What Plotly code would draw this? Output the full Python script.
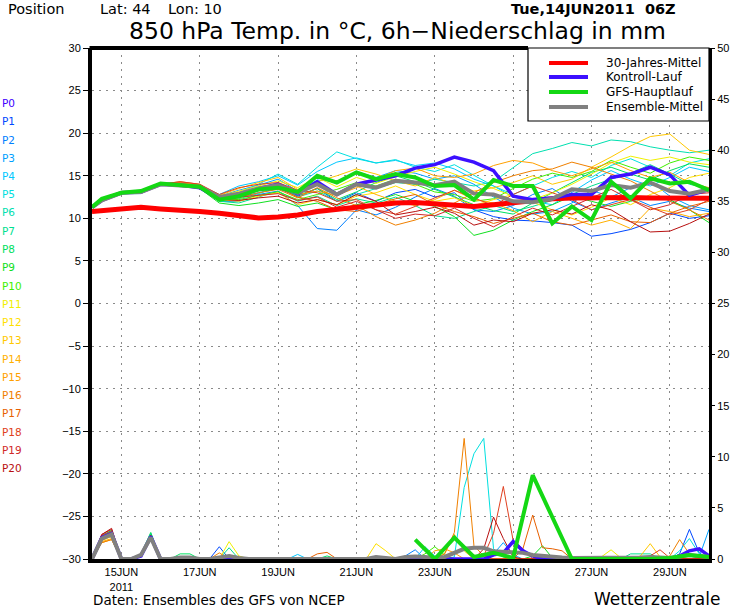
import plotly.graph_objects as go
from datetime import datetime, timedelta

# ---------------- data ----------------
BASE = datetime(2011, 6, 14, 6)
# temperature time steps (hours after 14JUN2011 06Z)
temp_hours = [0, 6] + [18 + 12 * i for i in range(31)]
# precipitation time steps (6-hourly)
precip_hours = list(range(0, 379, 6))
gfs_precip_hours = list(range(198, 379, 12))

tick_dates = ["2011-06-15", "2011-06-17", "2011-06-19", "2011-06-21",
              "2011-06-23", "2011-06-25", "2011-06-27", "2011-06-29"]
tick_text = ["15JUN<br>2011", "17JUN", "19JUN", "21JUN", "23JUN", "25JUN", "27JUN", "29JUN"]
temp_ticks = list(range(-30, 31, 5))
precip_ticks = list(range(0, 51, 5))

member_names = ["P%d" % i for i in range(21)]
member_colors = ["#4000FF", "#0048FF", "#0080FF", "#00A0FF", "#00C8FF", "#00E0E0",
                 "#00E0B0", "#00E090", "#00E060", "#10E020", "#40F000", "#F0F000",
                 "#FFE000", "#FFC800", "#FFB000", "#FFA000", "#F08000", "#E86000",
                 "#E04020", "#D02828", "#B81010"]

temp_klima = [10.8, 10.9, 11.2, 11.3, 11.1, 11.0, 10.8, 10.6, 10.3, 10.05, 10.15, 10.4,
              10.8, 11.05, 11.2, 11.5, 11.8, 11.85, 11.7, 11.5, 11.4, 11.6, 11.85, 12.1,
              12.3, 12.4, 12.45, 12.5, 12.45, 12.4, 12.4, 12.35, 12.35]
temp_kontroll = [11.3, 12.1, 13.0, 13.1, 14.0, 13.9, 13.6, 12.3, 12.8, 13.5, 14.0, 12.9,
                 14.3, 12.8, 14.0, 14.5, 15.0, 15.9, 16.3, 17.2, 16.6, 15.6, 12.6, 12.2,
                 12.4, 12.8, 12.8, 14.8, 15.2, 16.0, 15.1, 12.7, 13.4]
temp_gfs = [11.3, 12.3, 13.0, 13.2, 14.1, 13.9, 13.7, 12.2, 12.6, 13.4, 13.6, 13.1, 15.0,
            14.2, 15.4, 14.6, 15.2, 14.8, 13.8, 13.9, 12.2, 14.5, 13.8, 13.8, 9.4, 11.4,
            9.8, 14.3, 12.35, 14.7, 14.1, 14.3, 13.3]
temp_mittel = [11.3, 12.1, 13.0, 13.1, 14.0, 13.9, 13.7, 12.5, 12.9, 13.5, 13.9, 13.0,
               14.0, 12.8, 14.0, 13.6, 14.4, 14.2, 13.9, 14.3, 12.9, 12.8, 12.0, 11.9,
               12.3, 13.4, 13.2, 13.9, 13.6, 14.2, 13.2, 12.9, 13.4]

temp_p00 = list(temp_kontroll)
temp_p01 = [11.3, 12.1, 13.0, 13.2, 14.0, 13.8, 13.6, 12.2, 12.5, 13.0, 13.5, 12.6, 13.5, 12.0, 13.0, 12.0, 13.0, 13.4, 12.5, 13.0, 11.0, 10.2, 9.8, 9.7, 9.5, 9.2, 7.9, 8.2, 8.7, 9.5, 10.6, 10.0, 10.3]
temp_p02 = [11.3, 12.2, 13.1, 13.0, 14.1, 13.8, 13.5, 12.0, 12.0, 12.8, 13.2, 11.5, 8.8, 8.6, 11.0, 10.4, 11.3, 12.5, 13.5, 12.6, 11.0, 10.8, 11.5, 12.8, 13.5, 12.0, 11.0, 11.8, 12.5, 11.5, 12.0, 11.2, 10.8]
temp_p03 = [11.3, 12.1, 13.0, 13.1, 14.0, 14.0, 13.8, 12.6, 13.3, 13.9, 14.6, 13.2, 14.5, 14.3, 15.5, 14.8, 15.6, 15.3, 14.6, 15.0, 14.0, 12.5, 11.2, 10.5, 10.8, 11.8, 13.3, 12.5, 13.6, 14.4, 12.6, 11.5, 11.0]
temp_p04 = [11.3, 12.1, 12.9, 12.9, 14.0, 13.9, 13.9, 12.8, 13.8, 14.3, 15.0, 13.9, 15.5, 16.6, 17.1, 16.5, 16.8, 16.2, 16.5, 15.8, 14.6, 13.8, 12.5, 12.0, 11.6, 13.0, 14.5, 15.6, 14.6, 13.8, 14.8, 16.0, 15.5]
temp_p05 = [11.3, 12.1, 13.0, 13.1, 14.0, 13.9, 13.8, 12.5, 13.0, 14.0, 15.2, 14.0, 16.0, 17.8, 17.0, 16.5, 16.9, 16.0, 15.5, 16.3, 15.0, 13.8, 12.8, 13.8, 14.8, 15.5, 14.8, 16.2, 17.0, 16.0, 15.0, 16.5, 17.0]
temp_p06 = [11.3, 12.1, 13.0, 13.1, 14.0, 13.9, 13.6, 12.3, 12.3, 12.9, 13.8, 12.5, 13.2, 12.0, 12.8, 13.5, 14.2, 14.0, 14.6, 14.2, 13.8, 14.3, 16.0, 17.6, 18.2, 18.9, 18.5, 19.2, 19.0, 18.4, 18.0, 17.7, 18.0]
temp_p07 = [11.3, 12.1, 13.0, 13.1, 14.0, 13.9, 13.7, 12.0, 11.8, 12.5, 13.2, 12.0, 12.6, 11.5, 12.3, 11.8, 12.5, 11.5, 10.3, 10.0, 10.8, 11.5, 10.8, 11.4, 12.1, 12.8, 13.8, 14.6, 15.3, 16.3, 15.2, 14.0, 13.5]
temp_p08 = [11.3, 12.1, 13.0, 13.1, 14.0, 13.9, 13.7, 12.4, 12.6, 13.2, 13.6, 12.7, 13.5, 12.2, 13.1, 14.2, 15.0, 14.3, 13.4, 12.5, 11.6, 10.9, 10.5, 11.8, 13.0, 14.2, 15.4, 16.0, 15.2, 14.5, 15.6, 16.4, 16.0]
temp_p09 = [11.3, 12.1, 13.0, 13.1, 14.0, 13.9, 13.5, 11.8, 11.5, 11.8, 12.2, 11.4, 11.8, 11.0, 11.6, 12.1, 12.8, 12.0, 11.4, 10.2, 8.0, 8.6, 9.8, 10.8, 11.6, 12.6, 12.0, 11.4, 12.0, 12.6, 12.2, 11.0, 9.5]
temp_p10 = [11.3, 12.1, 13.0, 13.1, 14.0, 13.9, 13.7, 12.3, 12.2, 12.7, 13.1, 12.2, 12.8, 13.4, 14.2, 13.8, 14.6, 14.0, 13.1, 12.8, 12.0, 12.3, 13.5, 14.6, 15.3, 14.8, 15.5, 16.8, 16.0, 15.3, 16.5, 17.2, 16.8]
temp_p11 = [11.3, 12.1, 13.0, 13.1, 14.0, 14.0, 13.8, 12.6, 13.2, 13.8, 14.4, 13.6, 14.8, 13.7, 14.8, 14.1, 14.9, 15.5, 16.0, 15.2, 14.3, 13.5, 12.6, 12.2, 13.0, 14.0, 15.2, 16.5, 17.3, 16.8, 17.2, 16.6, 16.3]
temp_p12 = [11.3, 12.1, 13.0, 13.1, 14.0, 13.9, 13.6, 12.2, 12.0, 12.6, 13.0, 11.6, 12.2, 11.6, 12.6, 13.0, 13.8, 12.8, 12.0, 12.4, 11.5, 12.2, 12.8, 11.9, 11.0, 10.4, 11.3, 12.4, 11.6, 12.8, 13.6, 14.8, 15.3]
temp_p13 = [11.3, 12.1, 13.0, 13.1, 14.0, 14.1, 13.9, 12.7, 13.5, 14.2, 14.8, 13.4, 14.3, 15.0, 15.8, 15.2, 14.4, 13.8, 14.8, 14.0, 13.2, 13.6, 14.2, 15.0, 14.0, 14.6, 16.0, 17.2, 18.5, 19.6, 19.9, 18.0, 17.5]
temp_p14 = [11.3, 12.1, 13.0, 13.1, 14.0, 14.0, 13.8, 12.5, 12.8, 13.4, 14.2, 13.1, 13.9, 13.0, 13.8, 12.8, 12.0, 11.5, 12.2, 13.3, 12.2, 11.8, 10.9, 9.6, 10.8, 10.0, 9.2, 9.8, 8.8, 11.2, 10.8, 10.2, 10.6]
temp_p15 = [11.3, 12.1, 13.0, 13.1, 14.0, 14.1, 13.9, 12.6, 12.9, 13.6, 13.9, 12.8, 13.2, 12.7, 13.6, 14.6, 15.6, 15.9, 15.0, 14.8, 15.2, 16.2, 16.8, 16.5, 15.6, 15.0, 15.8, 16.6, 15.6, 14.8, 15.4, 14.2, 13.6]
temp_p16 = [11.3, 12.1, 13.0, 13.1, 14.0, 14.2, 13.8, 12.4, 12.4, 13.0, 13.4, 12.4, 13.6, 12.4, 11.5, 10.2, 9.2, 9.8, 10.6, 11.8, 13.0, 14.2, 15.0, 15.6, 15.8, 16.6, 16.0, 15.2, 14.4, 13.2, 12.0, 11.0, 9.8]
temp_p17 = [11.3, 12.1, 13.0, 13.1, 14.0, 14.3, 14.0, 12.6, 13.0, 13.5, 13.6, 12.5, 12.0, 11.0, 10.8, 11.6, 12.3, 12.8, 11.6, 10.8, 10.2, 9.4, 10.0, 10.6, 9.6, 9.2, 9.8, 10.4, 9.6, 9.5, 10.6, 11.4, 12.0]
temp_p18 = [11.3, 12.1, 13.0, 13.1, 14.0, 14.3, 14.0, 12.8, 13.6, 14.0, 14.2, 13.3, 13.0, 12.0, 12.2, 11.0, 10.5, 11.4, 12.4, 13.3, 12.4, 11.5, 12.8, 13.8, 13.0, 12.2, 11.0, 11.6, 12.2, 11.3, 10.4, 11.0, 12.2]
temp_p19 = [11.3, 12.1, 13.0, 13.1, 14.0, 14.0, 13.7, 12.3, 12.5, 12.7, 12.9, 12.1, 12.5, 11.3, 12.0, 11.0, 10.0, 10.5, 10.3, 11.2, 10.0, 9.0, 10.2, 11.2, 10.4, 11.4, 12.4, 13.4, 12.2, 11.0, 11.6, 12.8, 13.0]
temp_p20 = [11.3, 12.1, 13.0, 13.1, 14.0, 13.9, 13.6, 12.2, 12.1, 12.4, 12.6, 11.8, 12.2, 11.6, 12.8, 12.0, 10.4, 10.8, 11.3, 10.6, 9.2, 9.8, 9.6, 10.6, 11.0, 10.5, 11.6, 11.0, 9.6, 8.4, 8.5, 9.4, 10.5]

# 6h precipitation (mm), hour -> amount; hours not listed show 0 mm in the chart
precip_kontroll = {6: 2.1, 12: 2.5, 30: 0.3, 36: 2.2, 246: 0.4, 252: 0.6, 258: 1.7, 264: 0.8,
                   270: 0.3, 360: 0.3, 366: 0.8, 372: 1.0, 378: 0.3}
precip_mittel = {6: 2.0, 12: 2.4, 30: 0.4, 36: 2.1, 54: 0.15, 60: 0.15, 78: 0.2, 84: 0.3,
                 90: 0.1, 174: 0.2, 180: 0.1, 192: 0.2, 198: 0.25, 204: 0.2, 210: 0.1,
                 216: 0.2, 222: 0.6, 228: 1.0, 234: 1.1, 240: 1.1, 246: 0.75, 252: 0.7,
                 258: 0.7, 264: 0.6, 270: 0.4, 276: 0.3, 282: 0.2, 288: 0.15, 294: 0.1,
                 300: 0.1, 306: 0.1, 312: 0.15, 318: 0.15, 324: 0.1, 330: 0.15, 336: 0.15,
                 342: 0.2, 348: 0.15, 354: 0.1, 360: 0.25, 366: 0.4, 372: 0.3, 378: 0.2}
precip_gfs = [1.9, 0.0, 2.1, 0.2, 0.6, 0.1, 8.2, 4.1, 0.0, 0.0, 0.0, 0.0, 0.0, 0.1, 0.4, 0.2]

precip_p00 = dict(precip_kontroll)
precip_p01 = {6: 2.0, 12: 2.4, 30: 0.4, 36: 2.0, 78: 1.2, 360: 0.5, 366: 2.9, 372: 0.6}
precip_p02 = {6: 2.2, 12: 2.6, 30: 0.2, 36: 2.3, 192: 0.3, 198: 0.9, 318: 0.2}
precip_p03 = {6: 2.1, 12: 2.5, 30: 0.5, 36: 2.1, 246: 0.5, 252: 1.6, 258: 0.4, 372: 0.2, 378: 2.9}
precip_p04 = {6: 2.0, 12: 2.3, 30: 0.3, 36: 2.2, 126: 0.45, 204: 1.2, 210: 0.3}
precip_p05 = {6: 2.1, 12: 2.6, 30: 0.4, 36: 2.4, 222: 0.2, 228: 7.0, 234: 10.3, 240: 11.8,
              246: 1.0, 252: 0.2, 360: 0.8, 366: 2.0, 372: 0.5}
precip_p06 = {6: 2.3, 12: 2.7, 30: 0.3, 36: 2.4}
precip_p07 = {6: 2.2, 12: 2.8, 30: 0.4, 36: 2.5, 84: 1.1, 330: 0.5, 336: 0.5, 342: 0.5}
precip_p08 = {6: 2.3, 12: 2.8, 30: 0.5, 36: 2.6, 54: 0.5, 60: 0.5, 144: 0.3}
precip_p09 = {6: 2.2, 12: 2.7, 30: 0.3, 36: 2.3, 270: 0.3, 276: 1.3, 282: 0.1}
precip_p10 = {6: 2.1, 12: 2.6, 30: 0.2, 36: 2.2, 204: 0.5, 210: 1.2, 216: 0.4}
precip_p11 = {6: 2.0, 12: 2.4, 30: 0.4, 36: 2.1, 84: 1.7, 90: 0.3, 312: 0.2, 318: 0.9, 324: 0.1}
precip_p12 = {6: 1.9, 12: 2.3, 30: 0.3, 36: 2.0, 174: 1.5, 180: 0.8}
precip_p13 = {6: 1.8, 12: 2.2, 30: 0.3, 36: 2.0, 336: 0.3, 342: 1.5, 348: 0.2}
precip_p14 = {6: 1.7, 12: 2.0, 30: 0.2, 36: 1.9, 216: 0.5, 222: 2.4, 228: 0.8}
precip_p15 = {6: 1.6, 12: 1.9, 30: 0.3, 36: 2.0, 210: 0.8, 216: 1.0, 222: 0.6}
precip_p16 = {6: 1.6, 12: 1.9, 30: 0.4, 36: 2.2, 78: 0.6, 216: 0.5, 222: 2.6, 228: 11.8,
              234: 1.3, 240: 0.3, 354: 0.3, 360: 1.9, 366: 0.5}
precip_p17 = {6: 2.0, 12: 2.4, 30: 0.3, 36: 2.1, 138: 0.5, 144: 0.65, 264: 1.0, 270: 4.3,
              276: 1.1, 282: 1.0, 288: 0.8}
precip_p18 = {6: 2.3, 12: 2.7, 30: 0.4, 36: 2.3, 240: 0.3, 246: 2.5, 252: 7.1, 258: 1.8,
              264: 1.0, 342: 0.3, 348: 0.9, 354: 0.1}
precip_p19 = {6: 2.4, 12: 2.9, 30: 0.3, 36: 2.2}
precip_p20 = {6: 2.4, 12: 3.0, 30: 0.4, 36: 2.3, 240: 1.0, 246: 4.1, 252: 2.0, 258: 0.2}

legend_names = ["30-Jahres-Mittel", "Kontroll-Lauf", "GFS-Hauptlauf", "Ensemble-Mittel"]
legend_colors = ["#FF0000", "#3C10FF", "#14D814", "#808080"]

# ---------------- build ----------------
member_temps = [temp_p00, temp_p01, temp_p02, temp_p03, temp_p04, temp_p05, temp_p06,
                temp_p07, temp_p08, temp_p09, temp_p10, temp_p11, temp_p12, temp_p13,
                temp_p14, temp_p15, temp_p16, temp_p17, temp_p18, temp_p19, temp_p20]
member_precs = [precip_p00, precip_p01, precip_p02, precip_p03, precip_p04, precip_p05,
                precip_p06, precip_p07, precip_p08, precip_p09, precip_p10, precip_p11,
                precip_p12, precip_p13, precip_p14, precip_p15, precip_p16, precip_p17,
                precip_p18, precip_p19, precip_p20]

t_temp = [BASE + timedelta(hours=h) for h in temp_hours]
t_prec = [BASE + timedelta(hours=h) for h in precip_hours]
t_gfsp = [BASE + timedelta(hours=h) for h in gfs_precip_hours]


def prec_series(d):
    return [d.get(h, 0.0) for h in precip_hours]


FONT = "Liberation Sans"
FONT2 = "DejaVu Sans"
fig = go.Figure()

for vals, col, nm in zip(member_temps, member_colors, member_names):
    fig.add_trace(go.Scatter(x=t_temp, y=vals, mode="lines", name=nm,
                             line=dict(color=col, width=1), showlegend=False,
                             hoverinfo="skip"))
for d, col, nm in zip(member_precs, member_colors, member_names):
    fig.add_trace(go.Scatter(x=t_prec, y=prec_series(d), mode="lines", name=nm,
                             line=dict(color=col, width=1), yaxis="y2",
                             showlegend=False, hoverinfo="skip"))

# thick lines
fig.add_trace(go.Scatter(x=t_temp, y=temp_klima, mode="lines", name=legend_names[0],
                         line=dict(color=legend_colors[0], width=5), showlegend=False))
fig.add_trace(go.Scatter(x=t_temp, y=temp_kontroll, mode="lines", name=legend_names[1],
                         line=dict(color=legend_colors[1], width=3.5), showlegend=False))
fig.add_trace(go.Scatter(x=t_prec, y=prec_series(precip_kontroll), mode="lines",
                         name=legend_names[1], yaxis="y2",
                         line=dict(color=legend_colors[1], width=3.5), showlegend=False))
fig.add_trace(go.Scatter(x=t_temp, y=temp_mittel, mode="lines", name=legend_names[3],
                         line=dict(color=legend_colors[3], width=4), showlegend=False))
fig.add_trace(go.Scatter(x=t_prec, y=prec_series(precip_mittel), mode="lines",
                         name=legend_names[3], yaxis="y2",
                         line=dict(color=legend_colors[3], width=4), showlegend=False))
fig.add_trace(go.Scatter(x=t_temp, y=temp_gfs, mode="lines", name=legend_names[2],
                         line=dict(color=legend_colors[2], width=4), showlegend=False))
fig.add_trace(go.Scatter(x=t_gfsp, y=precip_gfs, mode="lines", name=legend_names[2],
                         yaxis="y2", line=dict(color=legend_colors[2], width=4),
                         showlegend=False))

# ---------------- layout ----------------
PL, PR, PT, PB = 92, 709, 48, 559
PW, PH = PR - PL, PB - PT


def px(x):
    return (x - PL) / PW


def py(y):
    return (PB - y) / PH


GRID = dict(showgrid=True, gridcolor="#8a8a8a", gridwidth=1, griddash="2px,5px")
fig.update_layout(
    width=730, height=609,
    margin=dict(l=PL, r=730 - PR, t=PT, b=609 - PB, autoexpand=False),
    paper_bgcolor="white", plot_bgcolor="white",
    font=dict(family=FONT, size=11, color="black"),
    showlegend=False,
    xaxis=dict(type="date", range=[t_temp[0], t_temp[-1]], automargin=False,
               tickvals=tick_dates, ticktext=tick_text, ticks="",
               showline=True, linecolor="black", linewidth=4, zeroline=False,
               tickfont=dict(size=11, family=FONT), **GRID),
    yaxis=dict(range=[-30, 30], tickvals=temp_ticks, ticks="outside", ticklen=5,
               tickwidth=1, tickcolor="black", showline=True, linecolor="black",
               linewidth=4, zeroline=False, automargin=False,
               tickfont=dict(size=11, family=FONT), **GRID),
    yaxis2=dict(range=[0, 50], tickvals=precip_ticks, overlaying="y", side="right",
                ticks="outside", ticklen=3, tickwidth=1, tickcolor="black",
                showline=True, linecolor="black", linewidth=3, showgrid=False,
                zeroline=False, automargin=False, tickfont=dict(size=11, family=FONT)),
)

shapes = []
# thick top frame left of the legend box
shapes.append(dict(type="line", xref="paper", yref="paper", x0=-0.004, x1=px(528), y0=1, y1=1,
                   line=dict(color="black", width=4), layer="above"))
# legend box
shapes.append(dict(type="rect", xref="paper", yref="paper", x0=px(528), x1=1.0,
                   y0=py(121), y1=1.0, fillcolor="white",
                   line=dict(color="black", width=1.2), layer="above"))
ann = []
legend_rows = [63, 77, 92, 107]
for nm, col, yy in zip(legend_names, legend_colors, legend_rows):
    shapes.append(dict(type="line", xref="paper", yref="paper", x0=px(549), x1=px(588),
                       y0=py(yy), y1=py(yy), line=dict(color=col, width=4), layer="above"))
    ann.append(dict(text=nm, xref="paper", yref="paper", x=px(604), y=py(yy),
                    xanchor="left", yanchor="middle", showarrow=False,
                    font=dict(size=12, family=FONT2, color="black")))

# member labels
for i, (nm, col) in enumerate(zip(member_names, member_colors)):
    ann.append(dict(text=nm, xref="paper", yref="paper", x=px(0), y=py(103 + 18.25 * i),
                    xanchor="left", yanchor="middle", showarrow=False,
                    font=dict(size=10.5, family=FONT2, color=col)))

for txt, x0 in [("Position", 6), ("Lat: 44", 98), ("Lon: 10", 166)]:
    ann.append(dict(text=txt, xref="paper", yref="paper", x=px(x0), y=py(9),
                    xanchor="left", yanchor="middle", showarrow=False,
                    font=dict(size=14.5, family=FONT2)))
ann.append(dict(text="<b>Tue,14JUN2011  06Z</b>", xref="paper", yref="paper", x=px(678),
                y=py(9), xanchor="right", yanchor="middle", showarrow=False,
                font=dict(size=14.5, family=FONT2)))
ann.append(dict(text="850 hPa Temp. in \u00b0C, 6h\u2212Niederschlag in mm", xref="paper",
                yref="paper", x=px(397), y=py(31), xanchor="center", yanchor="middle",
                showarrow=False, font=dict(size=23.5, family=FONT2)))
ann.append(dict(text="Daten: Ensembles des GFS von NCEP", xref="paper", yref="paper",
                x=px(91), y=py(600), xanchor="left", yanchor="middle", showarrow=False,
                font=dict(size=13.5, family=FONT2)))
ann.append(dict(text="Wetterzentrale", xref="paper", yref="paper", x=px(722), y=py(599),
                xanchor="right", yanchor="middle", showarrow=False,
                font=dict(size=17, family=FONT2)))

fig.update_layout(shapes=shapes, annotations=ann)
fig.write_html("out.html", config={"displayModeBar": False},
               post_script="document.body.style.margin='0px';"
                           "document.body.style.overflow='hidden';")
